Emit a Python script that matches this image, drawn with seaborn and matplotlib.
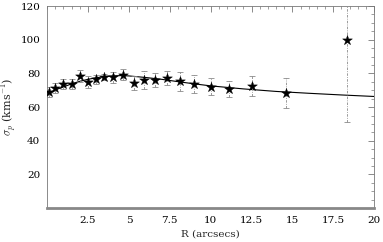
import matplotlib
matplotlib.use("Agg")
import matplotlib.pyplot as plt
import seaborn as sns
import numpy as np
import pandas as pd
from matplotlib.ticker import MultipleLocator

# data
radius = [0.1, 0.5, 1.0, 1.5, 2.0, 2.5, 3.0, 3.5, 4.0, 4.65, 5.3, 5.95, 6.6, 7.35, 8.1, 9.0, 10.0, 11.15, 12.55, 14.6, 18.35]
sigma = [68.9, 71.3, 73.6, 73.6, 78.6, 74.8, 76.6, 77.8, 77.6, 79.2, 74.2, 76.2, 76.2, 77.2, 75.2, 73.6, 72.2, 70.7, 72.6, 68.3, 100.0]
sigma_err = [3.0, 3.0, 3.0, 3.0, 3.5, 3.5, 2.7, 2.0, 3.2, 3.2, 4.0, 5.5, 4.3, 4.0, 5.5, 5.2, 5.0, 4.7, 6.1, 8.7, 49.0]

model_r = [0, 0.5, 1, 1.5, 2, 2.5, 3, 3.5, 4, 4.5, 5, 6, 7, 8, 9, 10, 12, 14, 16, 18, 20]
model_sigma = [68.0, 70.2, 72.0, 73.8, 75.3, 76.5, 77.4, 78.1, 78.5, 78.7, 78.5, 77.6, 76.5, 75.1, 73.8, 72.6, 70.8, 69.3, 68.2, 67.2, 66.3]

xticks = [2.5, 5, 7.5, 10, 12.5, 15, 17.5, 20]
xticklabels = ["2.5", "5", "7.5", "10", "12.5", "15", "17.5", "20"]
yticks = [20, 40, 60, 80, 100, 120]

sns.set_theme(style="white")
plt.rcParams['font.family'] = ['DejaVu Serif']
plt.rcParams['mathtext.fontset'] = 'cm'

fig = plt.figure(figsize=(3.83, 2.42), dpi=100)
ax = fig.add_axes([0.123, 0.14, 0.854, 0.835])

df_model = pd.DataFrame({"r": model_r, "s": model_sigma})
sns.lineplot(data=df_model, x="r", y="s", ax=ax, color="black", lw=0.8)

eb = ax.errorbar(radius, sigma, yerr=sigma_err, fmt="none", ecolor="#8a8a8a",
                 elinewidth=0.6, capsize=2, capthick=0.6, zorder=2)
for lc in eb[2]:
    lc.set_linestyle((0, (3, 1.5, 1, 1.5)))
df = pd.DataFrame({"r": radius, "s": sigma})
sns.scatterplot(data=df, x="r", y="s", ax=ax, marker="*", s=55, color="black",
                edgecolor="black", linewidth=0.3, zorder=3)

ax.set_xlim(0, 20)
ax.set_ylim(0, 120)
ax.set_xticks(xticks)
ax.set_xticklabels(xticklabels)
ax.set_yticks(yticks)
ax.xaxis.set_minor_locator(MultipleLocator(0.5))
ax.yaxis.set_minor_locator(MultipleLocator(5))
ax.tick_params(which="both", direction="in", top=True, right=True,
               colors="#777777", labelcolor="black", labelsize=7.5)
ax.tick_params(which="major", length=4, width=0.6)
ax.tick_params(which="minor", length=2, width=0.5)
ax.tick_params(axis="y", labelright=False, pad=5)
ax.tick_params(axis="x", pad=6)

for side in ["left", "top", "right"]:
    ax.spines[side].set_color("#777777")
    ax.spines[side].set_linewidth(0.6)
ax.spines["bottom"].set_color("#888888")
ax.spines["bottom"].set_linewidth(2.0)

ax.set_xlabel("R (arcsecs)", fontsize=7.5, labelpad=3)
ax.set_ylabel(r"$\sigma_p$ (kms$^{-1}$)", fontsize=8)
ax.yaxis.set_label_coords(-0.085, 0.5)

fig.savefig("out.png", dpi=100)
